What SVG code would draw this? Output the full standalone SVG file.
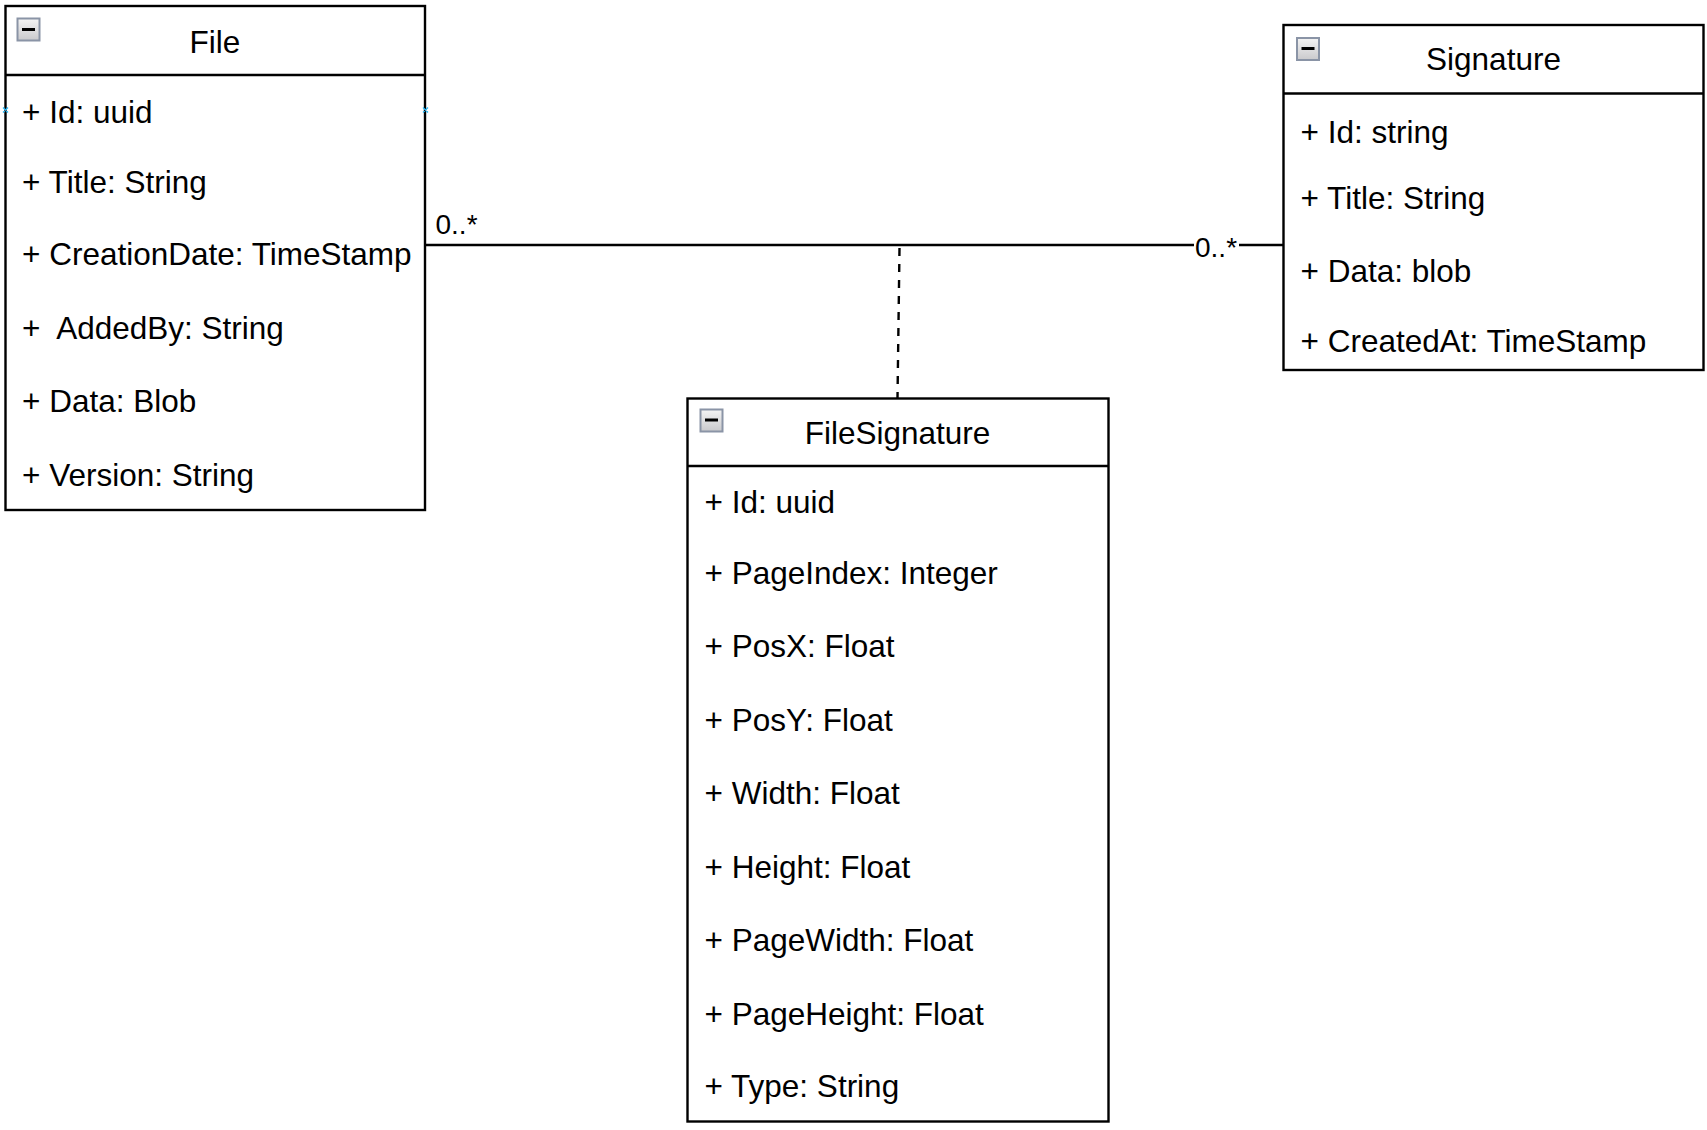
<svg xmlns="http://www.w3.org/2000/svg" width="1707" height="1130" viewBox="0 0 1707 1130">
<style>
.box{fill:#ffffff;stroke:#000000;stroke-width:2.4}
.div{stroke:#000000;stroke-width:2.4}
.title{font-family:"Liberation Sans",Arial,sans-serif;font-size:31.5px;fill:#000000;text-anchor:middle}
.attr{font-family:"Liberation Sans",Arial,sans-serif;font-size:31.5px;fill:#000000;white-space:pre}
.lbl{font-family:"Liberation Sans",Arial,sans-serif;font-size:28px;fill:#000000}
.icon{fill:url(#ig);stroke:#8a94a6;stroke-width:2}
.minus{stroke:#000000;stroke-width:3}
.conn{fill:none;stroke:#000000;stroke-width:2.4}
.dash{fill:none;stroke:#000000;stroke-width:2.4;stroke-dasharray:8 8}
.hx{stroke:#29b6f2;stroke-width:1.3}
</style>
<defs>
<linearGradient id="ig" x1="0" y1="0" x2="0" y2="1">
<stop offset="0" stop-color="#f4f4f4"/>
<stop offset="1" stop-color="#c9c9cc"/>
</linearGradient>
</defs>
<g id="connectors">
<line class="conn" x1="425" y1="245" x2="1283" y2="245"/>
<line class="dash" x1="899.5" y1="248" x2="897.5" y2="398"/>
<rect x="1194" y="233" width="45" height="25" fill="#ffffff"/>
<text class="lbl" x="435.5" y="234">0..*</text>
<text class="lbl" x="1195" y="256.5">0..*</text>
</g>
<g id="File">
<rect class="box" x="5.5" y="6" width="419.5" height="504"/>
<line class="div" x1="5.5" y1="75" x2="425" y2="75"/>
<rect class="icon" x="17.5" y="18.5" width="22" height="22"/>
<line class="minus" x1="22" y1="29.5" x2="35" y2="29.5"/>
<text class="title" x="215" y="52.5">File</text>
<text class="attr" x="22" y="123">+ Id: uuid</text>
<text class="attr" x="22" y="193">+ Title: String</text>
<text class="attr" x="22" y="265">+ CreationDate: TimeStamp</text>
<text class="attr" x="22" y="339">+  AddedBy: String</text>
<text class="attr" x="22" y="412">+ Data: Blob</text>
<text class="attr" x="22" y="486">+ Version: String</text>
<path class="hx" d="M3,107.5 l5,5 M8,107.5 l-5,5 M423,107.5 l5,5 M428,107.5 l-5,5"/>
</g>
<g id="Signature">
<rect class="box" x="1283.5" y="25" width="420" height="345"/>
<line class="div" x1="1283.5" y1="93.5" x2="1703.5" y2="93.5"/>
<rect class="icon" x="1297" y="38" width="22" height="22"/>
<line class="minus" x1="1301.5" y1="48.5" x2="1314.5" y2="48.5"/>
<text class="title" x="1493.5" y="69.5">Signature</text>
<text class="attr" x="1300.5" y="142.5">+ Id: string</text>
<text class="attr" x="1300.5" y="209">+ Title: String</text>
<text class="attr" x="1300.5" y="282">+ Data: blob</text>
<text class="attr" x="1300.5" y="351.8">+ CreatedAt: TimeStamp</text>
</g>
<g id="FileSignature">
<rect class="box" x="687.5" y="398.5" width="421" height="723"/>
<line class="div" x1="687.5" y1="466" x2="1108.5" y2="466"/>
<rect class="icon" x="700.5" y="409.5" width="22" height="22"/>
<line class="minus" x1="705" y1="420" x2="718" y2="420"/>
<text class="title" x="897.5" y="444">FileSignature</text>
<text class="attr" x="704.5" y="512.5">+ Id: uuid</text>
<text class="attr" x="704.5" y="584">+ PageIndex: Integer</text>
<text class="attr" x="704.5" y="657">+ PosX: Float</text>
<text class="attr" x="704.5" y="731">+ PosY: Float</text>
<text class="attr" x="704.5" y="804">+ Width: Float</text>
<text class="attr" x="704.5" y="878">+ Height: Float</text>
<text class="attr" x="704.5" y="951">+ PageWidth: Float</text>
<text class="attr" x="704.5" y="1025">+ PageHeight: Float</text>
<text class="attr" x="704.5" y="1097">+ Type: String</text>
</g>
</svg>
